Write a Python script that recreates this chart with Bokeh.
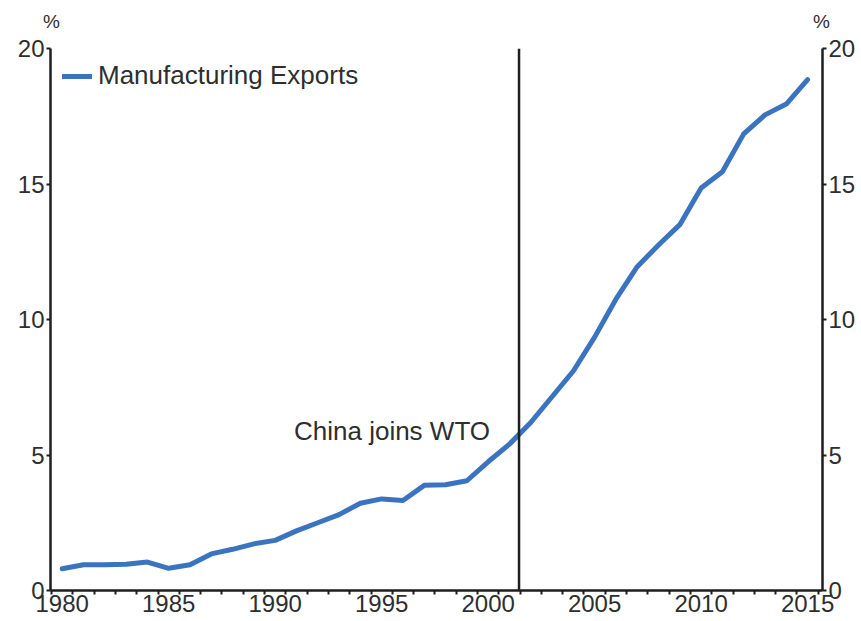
from bokeh.plotting import figure
from bokeh.models import Range1d, LinearAxis, FixedTicker, Span, Label
from bokeh.embed import file_html
from bokeh.resources import INLINE

years = list(range(1980, 2016))
exports = [0.8, 0.95, 0.95, 0.97, 1.05, 0.82, 0.95, 1.35, 1.52, 1.72,
           1.85, 2.2, 2.5, 2.8, 3.22, 3.38, 3.32, 3.88, 3.9, 4.05,
           4.75, 5.4, 6.2, 7.15, 8.1, 9.35, 10.75, 11.95, 12.75, 13.5,
           14.85, 15.45, 16.85, 17.55, 17.95, 18.85]
series_name = "Manufacturing Exports"
year_labels = ["1980", "1985", "1990", "1995", "2000", "2005", "2010", "2015"]
y_ticks = [0, 5, 10, 15, 20]
wto_year = 2001.95
wto_text = "China joins WTO"
unit = "%"

FONT = "Liberation Sans"
TXT = "#2e2e2e"
AX = "#1e1e1e"

X0, X1 = 1979.95, 2016.2
x_mid = [y + 0.5 for y in years]

p = figure(width=861, height=621, output_backend="svg", toolbar_location=None,
           x_range=Range1d(X0, X1), y_range=Range1d(0, 20),
           min_border_left=50, min_border_right=39, min_border_top=48,
           min_border_bottom=31)
p.outline_line_color = None
p.xgrid.visible = False
p.ygrid.visible = False
p.background_fill_color = "white"
p.border_fill_color = "white"

p.line(x_mid, exports, line_color="#3a74c0", line_width=5,
       line_cap="round", line_join="round", legend_label=series_name)

# x axis: labels centred on year spans, ticks at year boundaries
xa = p.xaxis[0]
label_pos = [int(s) + 0.5 for s in year_labels]
xa.ticker = FixedTicker(ticks=label_pos, minor_ticks=list(range(1980, 2017)))
xa.major_label_overrides = {pos: s for pos, s in zip(label_pos, year_labels)}
xa.major_tick_out = 0
xa.major_tick_in = 0
xa.minor_tick_out = 4
xa.minor_tick_in = 0
xa.minor_tick_line_color = AX
xa.minor_tick_line_width = 2
xa.axis_line_color = AX
xa.axis_line_width = 2.5
xa.major_label_text_font = FONT
xa.major_label_text_font_size = "24px"
xa.major_label_text_color = TXT
xa.major_label_standoff = 0

def style_y(ax):
    ax.ticker = FixedTicker(ticks=y_ticks)
    ax.major_tick_out = 4
    ax.major_tick_in = 0
    ax.minor_tick_out = 0
    ax.minor_tick_in = 0
    ax.major_tick_line_color = AX
    ax.major_tick_line_width = 2
    ax.axis_line_color = AX
    ax.axis_line_width = 2.5
    ax.major_label_text_font = FONT
    ax.major_label_text_font_size = "24px"
    ax.major_label_text_color = TXT
    ax.major_label_standoff = 2

style_y(p.yaxis[0])
ra = LinearAxis()
style_y(ra)
p.add_layout(ra, "right")

# "%" unit markers above both value axes, via a bare axis above the plot
unit_pos = [X0 + 0.05, X1 - 0.05]
ua = LinearAxis(ticker=FixedTicker(ticks=unit_pos, minor_ticks=[]))
ua.major_label_overrides = {pos: unit for pos in unit_pos}
ua.axis_line_color = None
ua.major_tick_line_color = None
ua.minor_tick_line_color = None
ua.major_tick_out = 0
ua.major_tick_in = 0
ua.major_label_standoff = 17
ua.major_label_text_font = FONT
ua.major_label_text_font_size = "19px"
ua.major_label_text_color = TXT
p.add_layout(ua, "above")

p.add_layout(Span(location=wto_year, dimension="height", line_color=AX,
                  line_width=2.5))

p.add_layout(Label(x=wto_year, y=5.9, x_offset=-29, text=wto_text,
                   text_align="right", text_baseline="middle",
                   text_font=FONT, text_font_size="26px", text_color=TXT))

lg = p.legend[0]
lg.location = "top_left"
lg.border_line_color = None
lg.background_fill_alpha = 0
lg.margin = 12
lg.padding = 7
lg.glyph_width = 30
lg.label_standoff = 6
lg.label_text_font = FONT
lg.label_text_font_size = "26px"
lg.label_text_color = TXT

open("out.html", "w").write(file_html(p, INLINE))
